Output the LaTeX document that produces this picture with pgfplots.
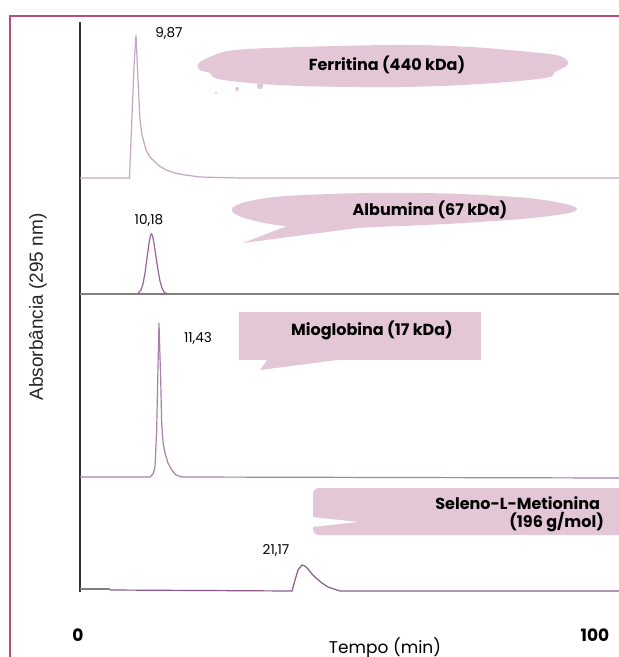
\documentclass[border=0pt]{standalone}
\usepackage{fontspec}
\setmainfont{Liberation Sans}
\newfontfamily\comic{Poppins}
\usepackage{pgfplots}
\pgfplotsset{compat=1.18}
\definecolor{framec}{RGB}{178,78,128}
\definecolor{bubble}{RGB}{228,199,214}
\definecolor{trA}{RGB}{196,166,196}
\definecolor{trB}{RGB}{150,100,150}
\definecolor{trC}{RGB}{170,128,170}
\definecolor{trD}{RGB}{140,88,140}
\definecolor{basegray}{RGB}{128,128,128}
\begin{document}
\begin{tikzpicture}[x=0.5pt,y=-0.5pt]
\useasboundingbox (0,0) rectangle (619,657);
\clip (0,0) rectangle (619,657);
\fill[white] (0,0) rectangle (619,657);
% frame
\draw[framec, line width=1.4pt] (10,690) -- (10,16) -- (660,16);
% Ferritina cloud
\fill[bubble] plot[smooth cycle, tension=0.6] coordinates {(198,64) (212,56) (235,50) (300,47) (400,45) (470,47) (530,52) (560,56) (568,64) (555,72) (545,78) (480,84) (400,87) (300,86) (240,82) (215,78) (210,73) (200,70)};
\fill[bubble] (260,86) circle[radius=1.6pt];
\fill[bubble] (237,89) circle[radius=1pt];
\fill[bubble] (216,93) circle[radius=0.6pt];
% Albumina leaf
\fill[bubble] plot[smooth cycle, tension=0.7] coordinates {(232,211) (260,199) (330,194) (420,193) (500,196) (550,201) (577,209) (550,216) (480,222) (400,226) (330,228) (270,224)};
\fill[bubble] (300,221) -- (243,243) -- (380,225) -- cycle;
% Mioglobina box
\fill[bubble] (239,312) rectangle (481,360);
\fill[bubble] (268,359) -- (260,370) -- (345,359) -- cycle;
% Seleno box
\fill[bubble, rounded corners=3pt] (313,488) rectangle (640,535);
\fill[white] (312,517) -- (358,522) -- (312,527) -- cycle;
% texts
\node[font=\comic\bfseries\fontsize{8}{9.6}\selectfont] at (387,65) {Ferritina (440 kDa)};
\node[font=\comic\bfseries\fontsize{8}{9.6}\selectfont] at (430,210) {Albumina (67 kDa)};
\node[font=\comic\bfseries\fontsize{8}{9.6}\selectfont] at (372,330) {Mioglobina (17 kDa)};
\node[font=\comic\bfseries\fontsize{8}{9.6}\selectfont, anchor=east] at (607,503) {Seleno-L-Metionina};
\node[font=\comic\bfseries\fontsize{8}{9.6}\selectfont, anchor=east] at (611,522) {(196 g/mol)};
\node[font=\comic\fontsize{6.8}{8}\selectfont] at (169,33) {9,87};
\node[font=\comic\fontsize{6.8}{8}\selectfont] at (149,220) {10,18};
\node[font=\comic\fontsize{6.8}{8}\selectfont] at (198,338) {11,43};
\node[font=\comic\fontsize{6.8}{8}\selectfont] at (276,550) {21,17};
\node[font=\comic\fontsize{8.5}{10}\selectfont] at (385,648) {Tempo (min)};
\node[rotate=90, text=black!85, font=\fontsize{9.5}{11}\selectfont] at (38,307) {Absorbância (295 nm)};
\begin{axis}[at={(40pt,-296pt)}, anchor=south west, scale only axis,
  width=269.5pt, height=285pt,
  xmin=0, xmax=104.26, ymin=0, ymax=570,
  axis y line*=left, axis x line*=bottom,
  x axis line style={draw=none},
  y axis line style={line width=0.8pt, black!80},
  ytick=\empty, xtick={0,100}, major tick length=0pt,
  xticklabel style={font=\comic\bfseries\fontsize{8.5}{10}\selectfont, yshift=-15pt, xshift=-1pt},
  /pgf/number format/assume math mode=true,
  clip=false]
% Ferritina
\addplot[trA, line width=0.6pt] coordinates {(0,414) (9.57,414) (10.44,525) (10.83,557) (11.22,512) (11.61,472) (12.0,457) (12.77,442) (13.54,435) (15.09,427) (16.63,422) (18.38,419) (20.31,417) (23.21,415) (30.95,414) (104.26,414)};
% Albumina
\addplot[basegray, line width=0.7pt] coordinates {(0,298) (104.26,298)};
\addplot[trB, line width=0.6pt] coordinates {(11.22,298.7) (11.80,302) (12.19,308) (12.57,319) (12.96,334) (13.35,349) (13.64,356.5) (13.83,358) (14.02,356.5) (14.31,349) (14.70,335) (15.09,322) (15.47,311) (15.86,304) (16.25,300) (16.83,298)};
% Mioglobina
\addplot[trC, line width=0.6pt] coordinates {(0,115) (13.54,115) (14.12,118) (14.51,125) (14.83,162) (15.03,212) (15.28,269) (15.61,212) (15.80,169) (16.05,150) (16.44,139) (17.02,129) (17.74,122) (18.57,117) (19.73,115) (104.26,114)};
% Seleno-L-Metionina
\addplot[basegray, line width=0.7pt] coordinates {(0,3) (5.8,3)};
\addplot[trD, line width=0.6pt] coordinates {(5.8,2) (41.0,1) (41.59,12) (42.17,22) (42.94,27) (43.52,26) (44.10,23) (44.87,18) (45.65,14) (46.81,9) (47.97,5) (49.13,3) (50.29,1) (51.64,1) (104.26,1)};
\end{axis}
\end{tikzpicture}
\end{document}
